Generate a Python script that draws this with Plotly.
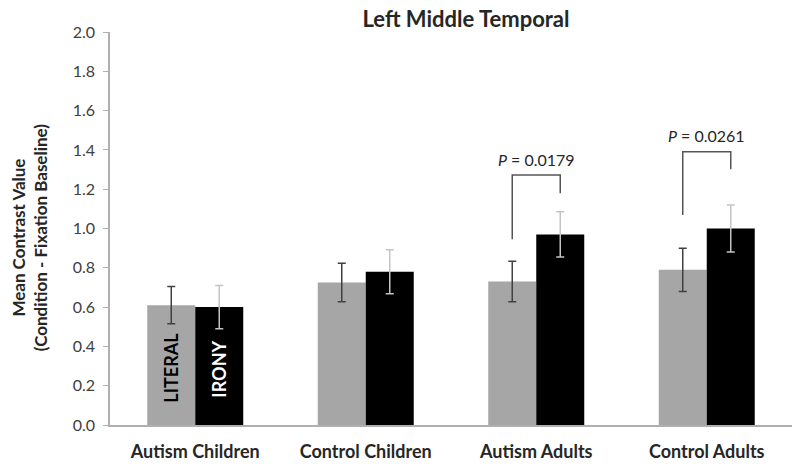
import plotly.graph_objects as go

categories = ["Autism Children", "Control Children", "Autism Adults", "Control Adults"]
literal_vals = [0.61, 0.725, 0.73, 0.79]
literal_err = [0.095, 0.098, 0.103, 0.11]
irony_vals = [0.60, 0.78, 0.97, 1.00]
irony_err = [0.11, 0.112, 0.115, 0.12]
y_ticks = [0.0, 0.2, 0.4, 0.6, 0.8, 1.0, 1.2, 1.4, 1.6, 1.8, 2.0]

# significance brackets: group index, top, left-leg bottom, right-leg bottom, label height, label
sig_groups = [2, 3]
sig_top = [1.272, 1.391]
sig_left_bottom = [0.945, 1.069]
sig_right_bottom = [1.179, 1.301]
sig_label_y = [1.352, 1.471]
sig_p = ["0.0179", "0.0261"]

FONT = "Lato"
BARGAP = 0.437
bar_w = (1 - BARGAP) / 2
W, H = 800, 466

fig = go.Figure()
fig.add_trace(go.Bar(
    x=categories, y=literal_vals, name="LITERAL",
    marker=dict(color="#a6a6a6", line=dict(width=0)),
    error_y=dict(type="data", array=literal_err, visible=True,
                 color="#404040", thickness=1.5, width=4),
))
fig.add_trace(go.Bar(
    x=categories, y=irony_vals, name="IRONY",
    marker=dict(color="#000000", line=dict(width=0)),
    error_y=dict(type="data", array=irony_err, visible=True,
                 color="#c4c4c4", thickness=1.5, width=4),
))

shapes = []
annotations = []
for g, top, lb, rb, ly, p in zip(sig_groups, sig_top, sig_left_bottom,
                                  sig_right_bottom, sig_label_y, sig_p):
    xl = g - bar_w / 2
    xr = g + bar_w / 2
    shapes.append(dict(type="path", xref="x", yref="y",
                       path=f"M {xl} {lb} L {xl} {top} L {xr} {top} L {xr} {rb}",
                       line=dict(color="#555555", width=1.5)))
    annotations.append(dict(x=g, y=ly, xref="x", yref="y", showarrow=False,
                            text=f"<i>P</i> = {p}",
                            font=dict(family=FONT, size=16, color="#262626")))

annotations.append(dict(x=0 - bar_w / 2, y=0.293, xref="x", yref="y", showarrow=False,
                        text="<b>LITERAL</b>", textangle=-90,
                        font=dict(family=FONT, size=18, color="#000000")))
annotations.append(dict(x=0 + bar_w / 2, y=0.283, xref="x", yref="y", showarrow=False,
                        text="<b>IRONY</b>", textangle=-90,
                        font=dict(family=FONT, size=18, color="#ffffff")))
annotations.append(dict(x=-0.117, y=0.476, xref="paper", yref="paper", showarrow=False,
                        text="<b>Mean Contrast Value</b><br><b>(Condition - Fixation Baseline)</b>",
                        textangle=-90, xanchor="center", yanchor="middle",
                        font=dict(family=FONT, size=17, color="#262626")))

fig.update_layout(
    width=W, height=H,
    margin=dict(l=110, r=8, t=32, b=41, autoexpand=False),
    paper_bgcolor="white", plot_bgcolor="white",
    barmode="group", bargap=BARGAP, bargroupgap=0,
    showlegend=False,
    title=dict(text="<b>Left Middle Temporal</b>", x=0.522, xref="paper", xanchor="center",
               y=1 - 19 / H, yref="container", yanchor="middle",
               font=dict(family=FONT, size=22, color="#262626")),
    shapes=shapes,
    annotations=annotations,
    xaxis=dict(showline=True, linecolor="#b0b0b0", linewidth=1.5, ticks="",
               ticklabelstandoff=10, automargin=False,
               tickfont=dict(family=FONT, size=18, color="#262626", weight="bold"),
               showgrid=False, zeroline=False),
    yaxis=dict(range=[0, 2.0], tickvals=y_ticks, ticktext=[f"{v:.1f}" for v in y_ticks],
               showline=True, linecolor="#b0b0b0", linewidth=1.5,
               ticks="outside", ticklen=5, tickcolor="#b0b0b0",
               ticklabelstandoff=5, automargin=False,
               tickfont=dict(family=FONT, size=16, color="#404040"),
               showgrid=False, zeroline=False),
)

fig.write_html("out.html", config={"displayModeBar": False},
               post_script="document.body.style.margin='0';")
